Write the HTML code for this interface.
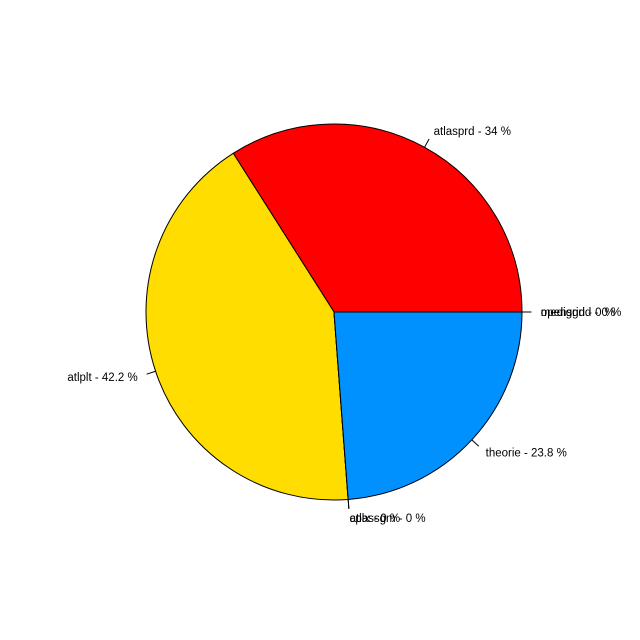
<!DOCTYPE html>
<html><head><meta charset="utf-8"><style>body{margin:0;background:#fff}svg{display:block}text{font-family:"Liberation Sans",sans-serif;font-size:11.5px;fill:#000}</style></head>
<body>
<svg id="chart" width="640" height="640"></svg>
<script>
const labels = ["atlasprd","atlplt","cplx","atlassgm","theorie","opensgrid","medigrid"];
const values = [34, 42.2, 0, 0, 23.8, 0, 0];
const colors = ["#FF0000","#FFDD00","#00FF66","#FFFFFF","#0091FF","#8800FF","#FF00CC"];
const svg = document.getElementById('chart');
const NS = "http://www.w3.org/2000/svg";
const cx = 334, cy = 312, r = 188;
const total = values.reduce((a,b)=>a+b,0);
function pt(a, rr){ return [cx + rr*Math.cos(a), cy - rr*Math.sin(a)]; }
let acc = 0;
values.forEach((v,i)=>{
  const a0 = acc/total*2*Math.PI; acc += v;
  const a1 = acc/total*2*Math.PI;
  const p0 = pt(a0,r), p1 = pt(a1,r);
  const large = (a1-a0) > Math.PI ? 1 : 0;
  const path = document.createElementNS(NS,'path');
  path.setAttribute('d', `M${cx},${cy} L${p0[0]},${p0[1]} A${r},${r} 0 ${large} 0 ${p1[0]},${p1[1]} Z`);
  path.setAttribute('fill', colors[i]);
  path.setAttribute('stroke', '#000');
  path.setAttribute('stroke-width', '1');
  
  
  svg.appendChild(path);
  const am = (a0+a1)/2;
  const t0 = pt(am, r), t1 = pt(am, r*1.05), tl = pt(am, r*1.1);
  const ln = document.createElementNS(NS,'line');
  ln.setAttribute('x1', t0[0]); ln.setAttribute('y1', t0[1]);
  ln.setAttribute('x2', t1[0]); ln.setAttribute('y2', t1[1]);
  ln.setAttribute('stroke', '#000');
  
  
  svg.appendChild(ln);
  const tx = document.createElementNS(NS,'text');
  tx.setAttribute('x', tl[0]); tx.setAttribute('y', tl[1] + 4);
  tx.setAttribute('text-anchor', Math.cos(am) >= 0 ? 'start' : 'end');
  tx.textContent = labels[i] + ' - ' + (Math.round(v*10)/10) + ' %';
  
  
  svg.appendChild(tx);
});
</script>
</body></html>
